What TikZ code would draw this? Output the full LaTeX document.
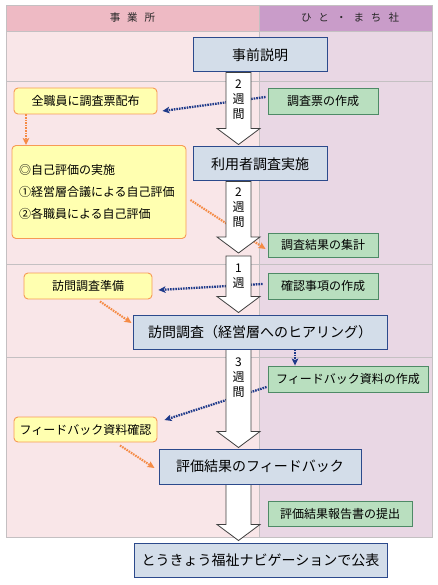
\documentclass[tikz,border=0pt]{standalone}
\usepackage{fontspec}
\setmainfont{Noto Sans CJK JP}
\usetikzlibrary{arrows.meta,calc}
\definecolor{hdrL}{HTML}{EEBAC4}
\definecolor{hdrR}{HTML}{C99CC9}
\definecolor{bodyL}{HTML}{F9E6E8}
\definecolor{bodyR}{HTML}{E9D7E4}
\definecolor{gridc}{HTML}{C4C0C2}
\definecolor{bluefill}{HTML}{D3DDE9}
\definecolor{bluedge}{HTML}{2C4A8C}
\definecolor{grnfill}{HTML}{B9DFBF}
\definecolor{grnedge}{HTML}{4E8A66}
\definecolor{yelfill}{HTML}{FFFFB0}
\definecolor{yeledge}{HTML}{F79A55}
\definecolor{dotblue}{HTML}{1F3A8A}
\definecolor{dotor}{HTML}{F58B45}
\definecolor{arrline}{HTML}{404040}
\pgfdeclarelayer{back}
\pgfdeclarelayer{bg}
\pgfdeclarelayer{mid}
\pgfsetlayers{back,bg,mid,main}
\tikzset{
  bluebox/.style={draw=bluedge, fill=bluefill, line width=1pt, inner sep=0pt,
    font=\fontsize{14}{16}\selectfont},
  grnbox/.style={draw=grnedge, fill=grnfill, line width=0.9pt, inner sep=0pt,
    font=\fontsize{12}{14}\selectfont},
  yelbox/.style={draw=yeledge, fill=yelfill, line width=0.9pt, rounded corners=4pt, inner sep=0pt,
    font=\fontsize{12}{14}\selectfont},
  bdot/.style={draw=dotblue, line width=2.3pt, dash pattern=on 1.6pt off 1pt,
    -{Stealth[length=7pt,width=6.5pt,inset=1.5pt]}},
  odot/.style={draw=dotor, line width=2.1pt, dash pattern=on 1.6pt off 1pt,
    -{Stealth[length=7pt,width=6.5pt,inset=1.5pt]}},
  bigarr/.style={draw=arrline, fill=white, line width=0.8pt, line join=miter},
  weektxt/.style={align=center, inner sep=0pt, font=\fontsize{12}{15}\selectfont},
  hdrtxt/.style={inner sep=0pt, text=black!85, font=\fontsize{10.5}{12}\selectfont},
}
\newcommand\bigarrow[2]{%
  \draw[bigarr] let \p1=(#1), \p2=(#2) in
    (226pt,\y1) -- (226pt,\y2+16pt) -- (217pt,\y2+16pt) -- (238.5pt,\y2)
    -- (260pt,\y2+16pt) -- (251pt,\y2+16pt) -- (251pt,\y1) -- cycle;}
\begin{document}
\begin{tikzpicture}[x=1pt,y=-1pt]
\useasboundingbox (0,0) rectangle (437,585);
% table
\begin{pgfonlayer}{back}
  \fill[hdrL] (6,5) rectangle (259,31);
  \fill[hdrR] (259,5) rectangle (432,31);
  \fill[bodyL] (6,31) rectangle (259,537);
  \fill[bodyR] (259,31) rectangle (432,537);
  \draw[gridc, line width=0.8pt] (6,5) rectangle (432,537);
  \foreach \yy in {31,81,264,357} \draw[gridc, line width=0.8pt] (6,\yy) -- (432,\yy);
  \draw[gridc, line width=0.8pt] (259,5) -- (259,537);
\end{pgfonlayer}
\node[hdrtxt] (h1) at (132.5,18) {事\hspace{7pt}業\hspace{7pt}所};
\node[hdrtxt] (h2) at (350,18) {ひ\hspace{7pt}と\hspace{7pt}・\hspace{7pt}ま\hspace{7pt}ち\hspace{7pt}社};
% main boxes
\node[bluebox, minimum width=134pt, minimum height=34pt] (n1) at (260,55) {事前説明};
\node[bluebox, minimum width=134pt, minimum height=34pt] (n2) at (260,164) {利用者調査実施};
\node[bluebox, minimum width=254pt, minimum height=34pt] (n3) at (260,332) {訪問調査（経営層へのヒアリング）};
\node[bluebox, minimum width=202pt, minimum height=35pt] (n4) at (260,466.5) {評価結果のフィードバック};
\node[bluebox, minimum width=253pt, minimum height=34pt] (n5) at (260.5,560) {とうきょう福祉ナビゲーションで公表};
% yellow boxes
\node[yelbox, minimum width=143pt, minimum height=26pt] (y1) at (85.5,101) {全職員に調査票配布};
\node[yelbox, minimum width=174pt, minimum height=93pt, text width=160pt, align=left,
  font=\fontsize{12}{22}\selectfont] (y2) at (99,192) {◎自己評価の実施\\①経営層合議による自己評価\\②各職員による自己評価};
\node[yelbox, minimum width=128pt, minimum height=26pt] (y3) at (88,286) {訪問調査準備};
\node[yelbox, minimum width=143pt, minimum height=25pt] (y4) at (85.5,429.5) {フィードバック資料確認};
% green boxes
\node[grnbox, minimum width=110pt, minimum height=26pt] (g1) at (323,101) {調査票の作成};
\node[grnbox, minimum width=110pt, minimum height=24pt] (g2) at (323,245) {調査結果の集計};
\node[grnbox, minimum width=110pt, minimum height=26pt] (g3) at (323,286) {確認事項の作成};
\node[grnbox, minimum width=160pt, minimum height=26pt] (g4) at (348,379) {フィードバック資料の作成};
\node[grnbox, minimum width=144pt, minimum height=25pt] (g5) at (340,513.5) {評価結果報告書の提出};
% big arrows
\coordinate (t2) at (238.5,253);
\coordinate (s3) at (238.5,256);
\begin{pgfonlayer}{mid}
  \bigarrow{n1.south}{$(n2.north)+(0,-2)$}
  \bigarrow{n2.south}{t2}
  \bigarrow{s3}{$(n3.north)+(0,-2)$}
  \bigarrow{n3.south}{$(n4.north)+(0,-1)$}
  \bigarrow{n4.south}{$(n5.north)+(0,-2)$}
\end{pgfonlayer}
\node[weektxt] (w1) at (238.5,100) {2\\週\\間};
\node[weektxt] (w2) at (238.5,208) {2\\週\\間};
\node[weektxt] (w3) at (238.5,276) {1\\週};
\node[weektxt] (w4) at (238.5,378) {3\\週\\間};
% dotted connectors
\coordinate (b3) at ($(n3.south)+(35,0)$);
\coordinate (c1) at ($(y1.south)+(-59.5,0)$);
\begin{pgfonlayer}{bg}
  \draw[bdot] ($(g1.west)+(-2,-4)$) -- ($(y1.east)+(5,10)$);
  \draw[bdot] ($(g3.west)+(-5,-2)$) -- ($(y3.east)+(6,4)$);
  \draw[bdot] (b3) -- (b3 |- g4.north);
  \draw[bdot] ($(g4.west)+(-1,8)$) -- ($(y4.east)+(7,-9.5)$);
  \draw[odot] (c1) -- (c1 |- y2.north);
  \draw[odot] ($(y2.east)+(4,8)$) -- ($(g2.west)+(-2,4)$);
  \draw[odot] ($(y3.south)+(12,2)$) -- ($(n3.west)+(-1,-9)$);
  \draw[odot] ($(y4.south)+(34.5,3)$) -- ($(n4.west)+(-4,1.5)$);
\end{pgfonlayer}
\end{tikzpicture}
\end{document}
